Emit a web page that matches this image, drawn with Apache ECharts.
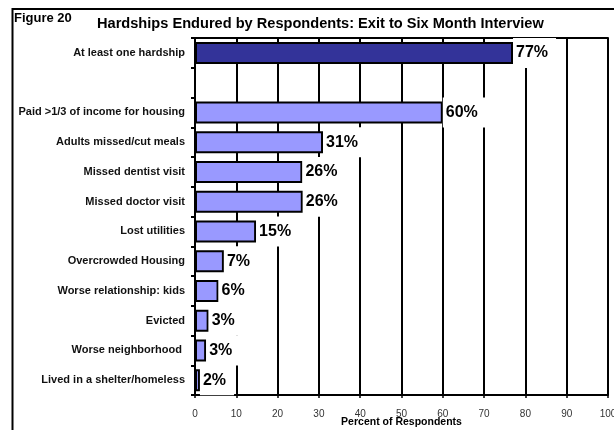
<!DOCTYPE html>
<html>
<head>
<meta charset="utf-8">
<script src="https://cdn.jsdelivr.net/npm/echarts@6/dist/echarts.min.js"></script>
<style>
  html, body { margin: 0; padding: 0; background: #fff; }
  #chart { width: 614px; height: 430px; }
</style>
</head>
<body>
<div id="chart"></div>
<script>
// hardship categories, top to bottom (second row is an empty spacer)
var categories = [
  'At least one hardship',
  '',
  'Paid >1/3 of income for housing',
  'Adults missed/cut meals',
  'Missed dentist visit',
  'Missed doctor visit',
  'Lost utilities',
  'Overcrowded Housing',
  'Worse relationship: kids',
  'Evicted',
  'Worse neighborhood ',
  'Lived in a shelter/homeless'
];
// bar lengths as drawn
var values = [77, null, 60, 31, 26, 26.1, 14.8, 7, 5.7, 3.3, 2.7, 1.2];
// printed labels
var pctLabels = ['77%', '', '60%', '31%', '26%', '26%', '15%', '7%', '6%', '3%', '3%', '2%'];
var xMin = 0, xMax = 100, xStep = 10;

var font = '"Liberation Sans", Arial, sans-serif';

var chart = echarts.init(document.getElementById('chart'));

var seriesData = values.map(function (v, i) {
  if (v === null) return '-';
  return {
    value: v,
    itemStyle: { color: i === 0 ? '#333399' : '#9999ff' }
  };
});

chart.setOption({
  animation: false,
  backgroundColor: '#fff',
  title: [
    {
      text: 'Figure 20',
      left: 14, top: 12, padding: 0,
      textStyle: { fontFamily: font, fontSize: 13, fontWeight: 'bold', color: '#000' }
    },
    {
      text: 'Hardships Endured by Respondents: Exit to Six Month Interview',
      left: 97, top: 16, padding: 0,
      textStyle: { fontFamily: font, fontSize: 14.6, fontWeight: 'bold', color: '#000' }
    }
  ],
  graphic: [
    {
      type: 'rect',
      shape: { x: 12.5, y: 9, width: 640, height: 460 },
      style: { fill: null, stroke: '#000', lineWidth: 2 },
      silent: true
    }
  ],
  grid: { left: 195, right: 6, top: 38, bottom: 35, outerBoundsMode: 'none' },
  xAxis: [
    {
      type: 'value',
      min: xMin, max: xMax, interval: xStep,
      name: 'Percent of Respondents',
      nameLocation: 'middle',
      nameGap: 22,
      nameMoveOverlap: false,
      nameTextStyle: { fontFamily: font, fontSize: 10.5, fontWeight: 'bold', color: '#000' },
      axisLine: { show: true, lineStyle: { color: '#000', width: 2 } },
      axisTick: { show: true, length: 3, lineStyle: { color: '#000', width: 1.5 } },
      axisLabel: { fontFamily: font, fontSize: 10, color: '#333', margin: 14 },
      splitLine: { show: true, lineStyle: { color: '#000', width: 2 } }
    },
    {
      type: 'value',
      position: 'top',
      min: xMin, max: xMax,
      axisLine: { show: true, lineStyle: { color: '#000', width: 2 } },
      axisTick: { show: false },
      axisLabel: { show: false },
      splitLine: { show: false }
    }
  ],
  yAxis: {
    type: 'category',
    inverse: true,
    data: categories,
    axisLine: { show: true, lineStyle: { color: '#000', width: 2 } },
    axisTick: { show: true, length: 4, lineStyle: { color: '#000', width: 2 } },
    axisLabel: {
      fontFamily: font, fontSize: 11, fontWeight: 'bold', color: '#111', margin: 10
    }
  },
  series: [
    {
      type: 'bar',
      data: seriesData,
      barWidth: 22,
      itemStyle: { borderColor: '#000', borderWidth: 2 },
      label: {
        show: true,
        position: 'right',
        distance: 0,
        formatter: function (p) { return pctLabels[p.dataIndex]; },
        fontFamily: font,
        fontSize: 16,
        fontWeight: 'bold',
        color: '#000',
        backgroundColor: '#fff',
        padding: [7, 8, 7, 3]
      }
    }
  ]
});
</script>
</body>
</html>
